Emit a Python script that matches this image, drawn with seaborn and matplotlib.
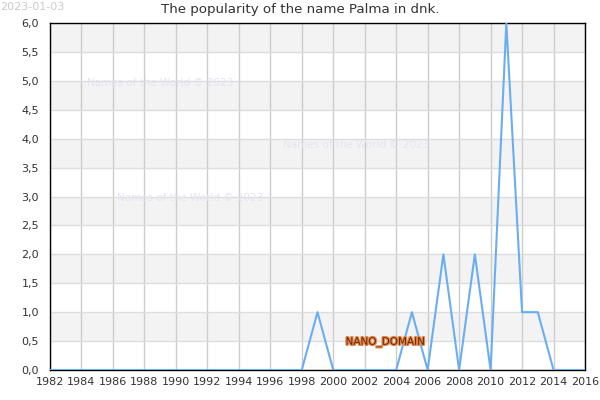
import pandas as pd
import matplotlib
matplotlib.use("Agg")
import matplotlib.pyplot as plt
import matplotlib.ticker as mticker
import matplotlib.patheffects as pe
import seaborn as sns

years = list(range(1982, 2017))
counts = [0, 0, 0, 0, 0, 0, 0, 0, 0, 0,
          0, 0, 0, 0, 0, 0, 0, 1, 0, 0,
          0, 0, 0, 1, 0, 2, 0, 2, 0, 6,
          1, 1, 0, 0, 0]
x_ticks = list(range(1982, 2017, 2))
y_ticks = [i * 0.5 for i in range(13)]

df = pd.DataFrame({"year": years, "count": counts})

sns.set_style("white")
plt.rcParams['font.family'] = ['DejaVu Sans']

fig = plt.figure(figsize=(6, 4), dpi=100)
ax = fig.add_axes([50 / 600, 30 / 400, 535 / 600, 347 / 400])

# alternating bands
for i, y0 in enumerate(y_ticks[:-1]):
    if i % 2 == 1:
        ax.axhspan(y0, y0 + 0.5, color="#f3f3f3", zorder=0, lw=0)

sns.lineplot(data=df, x="year", y="count", color="#6aaef2", lw=1.5, ax=ax, zorder=3)

ax.set_xlim(1982, 2016)
ax.set_ylim(0, 6)
ax.set_xticks(x_ticks)
ax.set_yticks(y_ticks)
ax.yaxis.set_major_formatter(mticker.FuncFormatter(lambda v, p: f"{v:.1f}".replace(".", ",")))
ax.xaxis.grid(True, color="#cccccc", lw=1, zorder=1)
ax.yaxis.grid(True, color="#dddddd", lw=1, zorder=1)
ax.set_axisbelow(True)
ax.tick_params(axis="both", labelsize=8, colors="#333333", length=0)
ax.tick_params(axis="x", pad=5)
ax.tick_params(axis="y", pad=8)
ax.set_xlabel("")
ax.set_ylabel("")
for s in ax.spines.values():
    s.set_visible(True)
    s.set_color("black")
    s.set_linewidth(1)

fig.suptitle("The popularity of the name Palma in dnk.", x=0.5, y=0.975, va="center",
             fontsize=9.6, color="#333333")

fig.text(0.0, 0.995, "2023-01-03", fontsize=8, color="#cccccc", ha="left", va="top")

wm = dict(fontsize=7.5, color="#e4e4f2", ha="left", va="center", zorder=2)
ax.text(1984.35, 4.96, "Names of the World © 2023", **wm)
ax.text(1996.8, 3.89, "Names of the World © 2023", **wm)
ax.text(1986.26, 2.97, "Names of the World © 2023", **wm)

ax.text(2003.3, 0.48, "NANO_DOMAIN", fontsize=7.5, color="#5a2a0a", ha="center", va="center", zorder=4,
        path_effects=[pe.withStroke(linewidth=1.8, foreground="#e8864a")])

fig.savefig("out.png", dpi=100)
